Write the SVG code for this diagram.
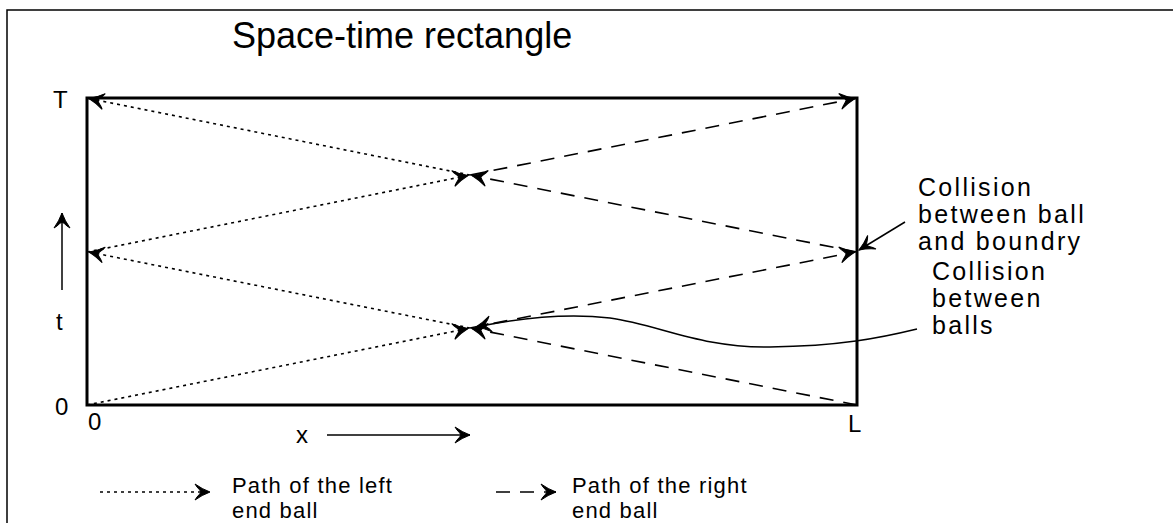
<svg xmlns="http://www.w3.org/2000/svg" width="1173" height="523" viewBox="0 0 1173 523">
<style>
text{font-family:"Liberation Sans",Arial,sans-serif;fill:#000}
.lbl{font-size:24px}
.note{font-size:25px;letter-spacing:2.3px}
.leg{font-size:22px;letter-spacing:1.2px}
.dot{fill:none;stroke:#000;stroke-width:1.6;stroke-dasharray:3 4}
.dash{fill:none;stroke:#000;stroke-width:1.6;stroke-dasharray:14 10}
.sol{fill:none;stroke:#000;stroke-width:1.5}
</style>
<defs>
<marker id="ah" markerUnits="userSpaceOnUse" markerWidth="24" markerHeight="20" viewBox="-18 -10 20 20" refX="0" refY="0" orient="auto">
<path d="M0,0 Q-8,-3 -15,-8 L-13,-5 Q-10,-2 -9,0 Q-10,2 -13,5 L-15,8 Q-8,3 0,0 Z" fill="#000" stroke="#000" stroke-width="1"/>
</marker>
</defs>
<g id="frame">
<path d="M7,523 V10 H1173" fill="none" stroke="#000" stroke-width="1.5"/>
</g>
<g id="title"><text x="232" y="48" style="font-size:36px">Space-time rectangle</text></g>
<g id="rect"><rect x="87" y="98" width="770" height="307" fill="none" stroke="#000" stroke-width="3"/></g>
<g id="axes">
<text class="lbl" x="53" y="108">T</text>
<text class="lbl" x="55" y="415">0</text>
<text class="lbl" x="56" y="330">t</text>
<text class="lbl" x="88" y="430">0</text>
<text class="lbl" x="848" y="432">L</text>
<text class="lbl" x="296" y="443">x</text>
</g>
<g id="connectors">
<line class="dot" x1="87" y1="405" x2="468" y2="328.5" marker-end="url(#ah)"/>
<line class="dot" x1="470" y1="328" x2="89" y2="252" marker-end="url(#ah)"/>
<line class="dot" x1="87" y1="252" x2="468" y2="175.5" marker-end="url(#ah)"/>
<line class="dot" x1="470" y1="175" x2="89" y2="98.5" marker-end="url(#ah)"/>
<line class="dash" x1="857" y1="405" x2="472" y2="328.5" marker-end="url(#ah)"/>
<line class="dash" x1="470" y1="328" x2="855" y2="252" marker-end="url(#ah)"/>
<line class="dash" x1="857" y1="252" x2="472" y2="175.5" marker-end="url(#ah)"/>
<line class="dash" x1="470" y1="175" x2="855" y2="98.5" marker-end="url(#ah)"/>
<path class="sol" d="M917,329 C880,338 840,346 770,347 C700,348 660,325 610,318 C560,312 510,320 476,327" marker-end="url(#ah)"/>
<line class="sol" x1="905" y1="222" x2="859" y2="250" marker-end="url(#ah)"/>
<line class="sol" x1="62" y1="290" x2="62" y2="213" marker-end="url(#ah)"/>
<line class="sol" x1="327" y1="435" x2="470" y2="435" marker-end="url(#ah)"/>
</g>
<g id="label-boundary">
<text class="note" x="918" y="196">Collision</text>
<text class="note" x="918" y="223">between ball</text>
<text class="note" x="918" y="250">and boundry</text>
</g>
<g id="label-balls">
<text class="note" x="932" y="280">Collision</text>
<text class="note" x="932" y="307">between</text>
<text class="note" x="932" y="334">balls</text>
</g>
<g id="legend">
<line class="dot" x1="100" y1="492" x2="210" y2="492" marker-end="url(#ah)"/>
<text class="leg" x="232" y="493">Path of the left</text>
<text class="leg" x="232" y="518">end ball</text>
<line class="dash" x1="496" y1="492" x2="556" y2="492" marker-end="url(#ah)"/>
<text class="leg" x="572" y="493">Path of the right</text>
<text class="leg" x="572" y="518">end ball</text>
</g>
</svg>
